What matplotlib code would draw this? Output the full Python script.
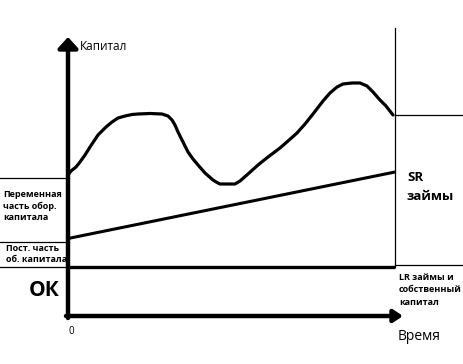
import matplotlib
matplotlib.use("Agg")
import matplotlib.pyplot as plt

plt.rcParams['font.family'] = ['Open Sans', 'DejaVu Sans']

# time (x) and capital (y) in chart units, origin at the axes corner
curve_t = [0, 3, 8, 12, 17, 22, 30, 38, 44, 50, 57, 64, 70, 82, 94, 100, 104, 107, 110,
           115, 120, 125, 130, 137, 145, 149, 152, 160, 167, 172, 180, 190, 200, 212,
           220, 229, 237, 245, 255, 262, 269, 275, 284, 292, 299, 305, 312, 318, 325]
curve_c = [141, 145, 149, 154, 161, 169, 181, 189, 194, 198, 200, 201.5, 202, 202.5, 202,
           200, 196, 191, 184, 174, 164, 157, 151, 143, 136, 133.5, 132, 132, 132, 135,
           142, 151, 159, 168, 175, 183, 192, 202, 215, 223, 229, 232, 233, 233, 230,
           224, 216, 210, 201]

sr_t = [0, 327]
sr_c = [77.5, 144]

lr_level = 49.5
var_top = 138
perm_top = 74
t_end = 327
x_tip = 335
y_tip = 279
right_top = 288

left_labels = ["Переменная\nчасть обор.\nкапитала", "Пост. часть\nоб. капитала"]
right_labels = ["SR\nзаймы", "LR займы и\nсобственный\nкапитал"]

fig = plt.figure(figsize=(4.64, 3.64), dpi=100)
ax = fig.add_axes([0, 0, 1, 1])
ax.set_xlim(-68, 396)
ax.set_ylim(-48, 316)
ax.axis('off')

# axes with arrows
ax.annotate('', xy=(0, y_tip), xytext=(0, -2),
            arrowprops=dict(arrowstyle='-|>,head_width=0.5,head_length=0.55',
                            lw=3.2, color='black', shrinkA=0, shrinkB=0,
                            mutation_scale=12))
ax.annotate('', xy=(x_tip, 0), xytext=(-2, 0),
            arrowprops=dict(arrowstyle='-|>,head_width=0.3,head_length=0.45',
                            lw=3.2, color='black', shrinkA=0, shrinkB=0,
                            mutation_scale=12))

# thin frame lines
ax.plot([t_end, t_end], [lr_level, right_top], color='black', lw=0.9)
ax.plot([t_end, 396], [201, 201], color='black', lw=0.9)
ax.plot([t_end, 396], [lr_level + 1.5, lr_level + 1.5], color='black', lw=0.9)
for lvl in [var_top, perm_top, lr_level]:
    ax.plot([-68, 0], [lvl, lvl], color='black', lw=0.9)

# LR level, SR line and the capital curve
ax.plot([0, t_end], [lr_level, lr_level], color='black', lw=2.4, solid_capstyle='butt')
ax.plot(sr_t, sr_c, color='black', lw=2.2, solid_capstyle='butt')
ax.plot(curve_t, curve_c, color='black', lw=2.3, solid_joinstyle='round',
        solid_capstyle='round')

# texts
ax.text(12, 270, "Капитал", fontsize=8.5, va='center', ha='left')
ax.text(3, -15, "0", fontsize=7, va='center', ha='center')
ax.text(330, -20, "Время", fontsize=10, va='center', ha='left')
ax.text(-8, 25, "ОК", fontsize=15, fontweight='bold', va='center', ha='right')
ax.text(-65, 110, left_labels[0], fontsize=6.5, fontweight='bold', va='center',
        ha='left', linespacing=1.35)
ax.text(-62, 62, left_labels[1], fontsize=6.5, fontweight='bold', va='center',
        ha='left', linespacing=1.35)
ax.text(339, 129, right_labels[0], fontsize=9.5, fontweight='bold', va='center',
        ha='left', linespacing=1.55)
ax.text(331, 26, right_labels[1], fontsize=6.5, fontweight='bold', va='center',
        ha='left', linespacing=1.45)

fig.savefig("out.png", dpi=100)
